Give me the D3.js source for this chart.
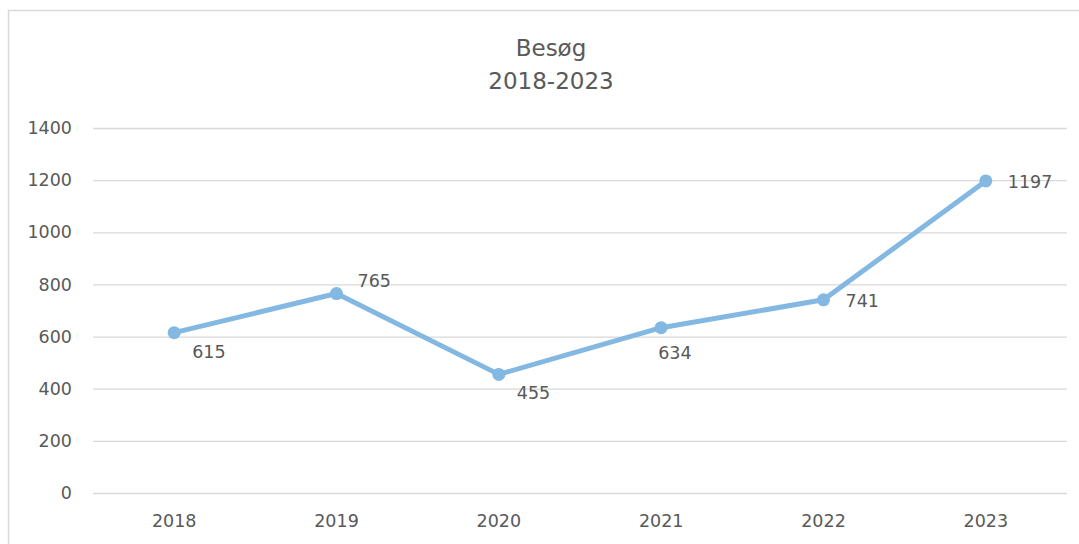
<!DOCTYPE html>
<html><head><meta charset="utf-8">
<script src="https://cdn.jsdelivr.net/npm/d3@7"></script>
<style>body{margin:0;background:#fff}svg{display:block}text{font-family:"DejaVu Sans",sans-serif;fill:#595959}</style>
</head><body>
<script>
const years = ["2018","2019","2020","2021","2022","2023"];
const visits = [615, 765, 455, 634, 741, 1197];
const yTicks = [0,200,400,600,800,1000,1200,1400];
const titleLines = ["Besøg","2018-2023"];

const W=1079,H=544;
const FONT="'DejaVu Sans',sans-serif";
const svg=d3.select("body").append("svg").attr("width",W).attr("height",H);
svg.append("rect").attr("x",8.5).attr("y",10.5).attr("width",W).attr("height",H).attr("fill","#fff").attr("stroke","#d9d9d9").attr("stroke-width",1.5);

const x=d3.scaleBand().domain(years).range([93,1067]);
const y=d3.scaleLinear().domain([0,1400]).range([493,128]);

const gy=svg.append("g").attr("transform","translate(93,0)")
  .call(d3.axisLeft(y).tickValues(yTicks).tickSize(-974).tickPadding(21).tickFormat(d3.format("d")));
gy.select(".domain").remove();
gy.selectAll("line").attr("stroke","#d9d9d9").attr("stroke-width",1.3);
gy.selectAll("text").attr("font-size",17.5).style("fill","#595959").attr("font-family",FONT);

const gx=svg.append("g").attr("transform","translate(0,493)")
  .call(d3.axisBottom(x).tickSize(0).tickPadding(22));
gx.select(".domain").remove();
gx.selectAll("text").attr("font-size",17.5).style("fill","#595959").attr("font-family",FONT);

const cx=d=>x(d)+x.bandwidth()/2;
const data=years.map((yr,i)=>({yr,v:visits[i]}));
svg.append("path").datum(data).attr("fill","none").attr("stroke","#82b8e2").attr("stroke-width",5).attr("stroke-linejoin","round").attr("stroke-linecap","round")
  .attr("d",d3.line().x(d=>cx(d.yr)).y(d=>y(d.v)));
svg.selectAll("circle.pt").data(data).join("circle").attr("cx",d=>cx(d.yr)).attr("cy",d=>y(d.v)).attr("r",6.5).attr("fill","#82b8e2");

// label placement per point: below-right, above-right, below, right
const place={br:[18,25],tr:[21,-7],b:[-3,31],r:[22,7]};
const pos=["br","tr","br","b","r","r"];
svg.selectAll("text.lbl").data(data).join("text").attr("class","lbl")
  .attr("x",(d,i)=>cx(d.yr)+place[pos[i]][0])
  .attr("y",(d,i)=>y(d.v)+place[pos[i]][1])
  .attr("font-size",17.5).text(d=>d.v);

svg.selectAll("text.title").data(titleLines).join("text").attr("class","title")
  .attr("x",551).attr("y",(d,i)=>55.5+i*33).attr("text-anchor","middle").attr("font-size",23).text(d=>d);
</script>
</body></html>
